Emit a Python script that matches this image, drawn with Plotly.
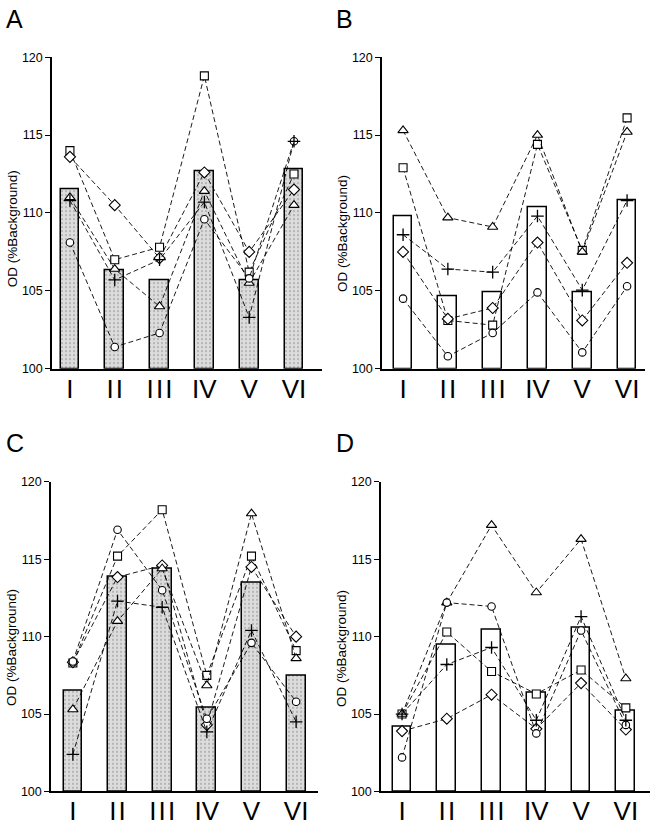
import plotly.graph_objects as go

W, H = 651, 827

categories = ["I", "II", "III", "IV", "V", "VI"]
tick_labels = ["I", "I\u200aI", "I\u200aI\u200aI", "IV", "V", "VI"]

# Panel A
bars_A = [111.5, 106.3, 105.7, 112.7, 105.7, 112.8]
square_A = [114.0, 107.0, 107.8, 118.8, 106.2, 112.5]
diamond_A = [113.6, 110.5, 107.1, 112.6, 107.5, 111.5]
triangle_A = [111.0, 106.4, 104.0, 111.4, 105.5, 110.5]
circle_A = [108.1, 101.4, 102.3, 109.6, 105.8, 114.6]
plus_A = [110.8, 105.7, 107.0, 110.7, 103.3, 114.6]

# Panel B
bars_B = [109.8, 104.65, 104.9, 110.4, 104.9, 110.85]
square_B = [112.9, 103.1, 102.8, 114.4, 107.6, 116.1]
diamond_B = [107.5, 103.2, 103.9, 108.1, 103.1, 106.8]
triangle_B = [115.3, 109.7, 109.1, 115.0, 107.5, 115.2]
circle_B = [104.5, 100.8, 102.3, 104.9, 101.05, 105.3]
plus_B = [108.6, 106.4, 106.2, 109.8, 105.05, 110.8]

# Panel C
bars_C = [106.5, 113.85, 114.4, 105.4, 113.5, 107.5]
square_C = [108.3, 115.2, 118.2, 107.5, 115.2, 109.1]
diamond_C = [108.35, 113.85, 114.6, 104.3, 114.5, 110.0]
triangle_C = [105.3, 111.0, 114.4, 106.85, 117.95, 108.6]
circle_C = [108.4, 116.9, 113.0, 104.7, 109.6, 105.8]
plus_C = [102.4, 112.3, 111.9, 103.85, 110.4, 104.5]

# Panel D
bars_D = [104.2, 109.5, 110.45, 106.4, 110.55, 105.2]
square_D = [105.0, 110.3, 107.75, 106.3, 107.85, 105.4]
diamond_D = [103.9, 104.7, 106.25, 104.05, 107.0, 104.0]
triangle_D = [105.0, 112.2, 117.2, 112.85, 116.3, 107.3]
circle_D = [102.2, 112.2, 111.95, 103.75, 110.4, 104.3]
plus_D = [105.0, 108.2, 109.3, 104.6, 111.3, 104.6]

panel_letters = ["A", "B", "C", "D"]
y_title = "OD (%Background)"
y_ticks = [100, 105, 110, 115, 120]

panels = [
    dict(bars=bars_A, sq=square_A, di=diamond_A, tr=triangle_A, ci=circle_A, pl=plus_A, stipple=True),
    dict(bars=bars_B, sq=square_B, di=diamond_B, tr=triangle_B, ci=circle_B, pl=plus_B, stipple=False),
    dict(bars=bars_C, sq=square_C, di=diamond_C, tr=triangle_C, ci=circle_C, pl=plus_C, stipple=True),
    dict(bars=bars_D, sq=square_D, di=diamond_D, tr=triangle_D, ci=circle_D, pl=plus_D, stipple=False),
]

# layout geometry (pixels)
x_dom_px = [(52, 322), (382, 645), (51, 318), (381, 650)]
y_dom_px = [(51, 368), (51, 368), (483, 798), (483, 798)]
x_ranges = [(-0.40, 5.625), (-0.47, 5.40), (-0.49, 5.49), (-0.47, 5.54)]
letter_pos = [(14, 12), (344, 12), (15, 443), (345, 444)]
ytitle_pos = [(12, 226), (342, 230), (12, 652), (342, 652)]

FONT = "Liberation Sans, Arial, Helvetica, sans-serif"
fig = go.Figure()
xs = list(range(len(categories)))

markers = [
    ("sq", "square", 8, 1.1),
    ("di", "diamond", 8.5, 1.1),
    ("tr", "triangle-up", 9, 1.1),
    ("ci", "circle", 7.5, 1.1),
    ("pl", "cross-thin", 9, 1.3),
]

for i, p in enumerate(panels):
    sfx = "" if i == 0 else str(i + 1)
    xa, ya = "x" + sfx, "y" + sfx
    base = [100] * 6
    if p["stipple"]:
        mk = dict(color="#d6d6d6", line=dict(color="black", width=1.5),
                  pattern=dict(shape=".", fgcolor="#777777", bgcolor="#dcdcdc", size=4, solidity=0.2))
    else:
        mk = dict(color="white", line=dict(color="black", width=1.5))
    fig.add_trace(go.Bar(x=xs, y=[v - 100 for v in p["bars"]], base=base, width=0.42,
                         marker=mk, xaxis=xa, yaxis=ya, showlegend=False))
    for key, sym, size, lw in markers:
        fig.add_trace(go.Scatter(
            x=xs, y=p[key], mode="lines+markers", xaxis=xa, yaxis=ya, showlegend=False,
            line=dict(color="black", width=0.9, dash="5px,3px"),
            marker=dict(symbol=sym, size=size, color="white",
                        line=dict(color="black", width=lw)),
            cliponaxis=False,
        ))

layout = dict(
    width=W, height=H, margin=dict(l=0, r=0, t=0, b=0),
    paper_bgcolor="white", plot_bgcolor="white",
    font=dict(family=FONT, color="black"),
    bargap=0, annotations=[],
)
for i in range(4):
    sfx = "" if i == 0 else str(i + 1)
    x0, x1 = x_dom_px[i]
    ytop, ybot = y_dom_px[i]
    layout["xaxis" + sfx] = dict(
        domain=[x0 / W, x1 / W], range=list(x_ranges[i]), anchor="y" + sfx,
        tickvals=xs, ticktext=tick_labels, ticks="", showgrid=False, zeroline=False,
        showline=True, linecolor="black", linewidth=1.5,
        tickfont=dict(size=26, family=FONT), ticklabelstandoff=-4, fixedrange=True,
    )
    layout["yaxis" + sfx] = dict(
        domain=[1 - ybot / H, 1 - ytop / H], range=[100, 120], anchor="x" + sfx,
        tickvals=y_ticks, ticks="outside", ticklen=5, tickwidth=1.2, tickcolor="black",
        showgrid=False, zeroline=False, showline=True, linecolor="black", linewidth=1.5,
        tickfont=dict(size=12.5, family=FONT), fixedrange=True,
    )
    lx, ly = letter_pos[i]
    layout["annotations"].append(dict(
        text=panel_letters[i], x=lx / W, y=1 - ly / H, xref="paper", yref="paper",
        showarrow=False, font=dict(size=25, family=FONT), xanchor="center", yanchor="middle"))
    tx, ty = ytitle_pos[i]
    layout["annotations"].append(dict(
        text=y_title, x=tx / W, y=1 - ty / H, xref="paper", yref="paper", textangle=-90,
        showarrow=False, font=dict(size=13.5, family=FONT), xanchor="center", yanchor="middle"))

fig.update_layout(**layout)
fig.write_html("out.html", config={"displayModeBar": False},
               post_script="document.body.style.margin='0';document.body.style.padding='0';")
